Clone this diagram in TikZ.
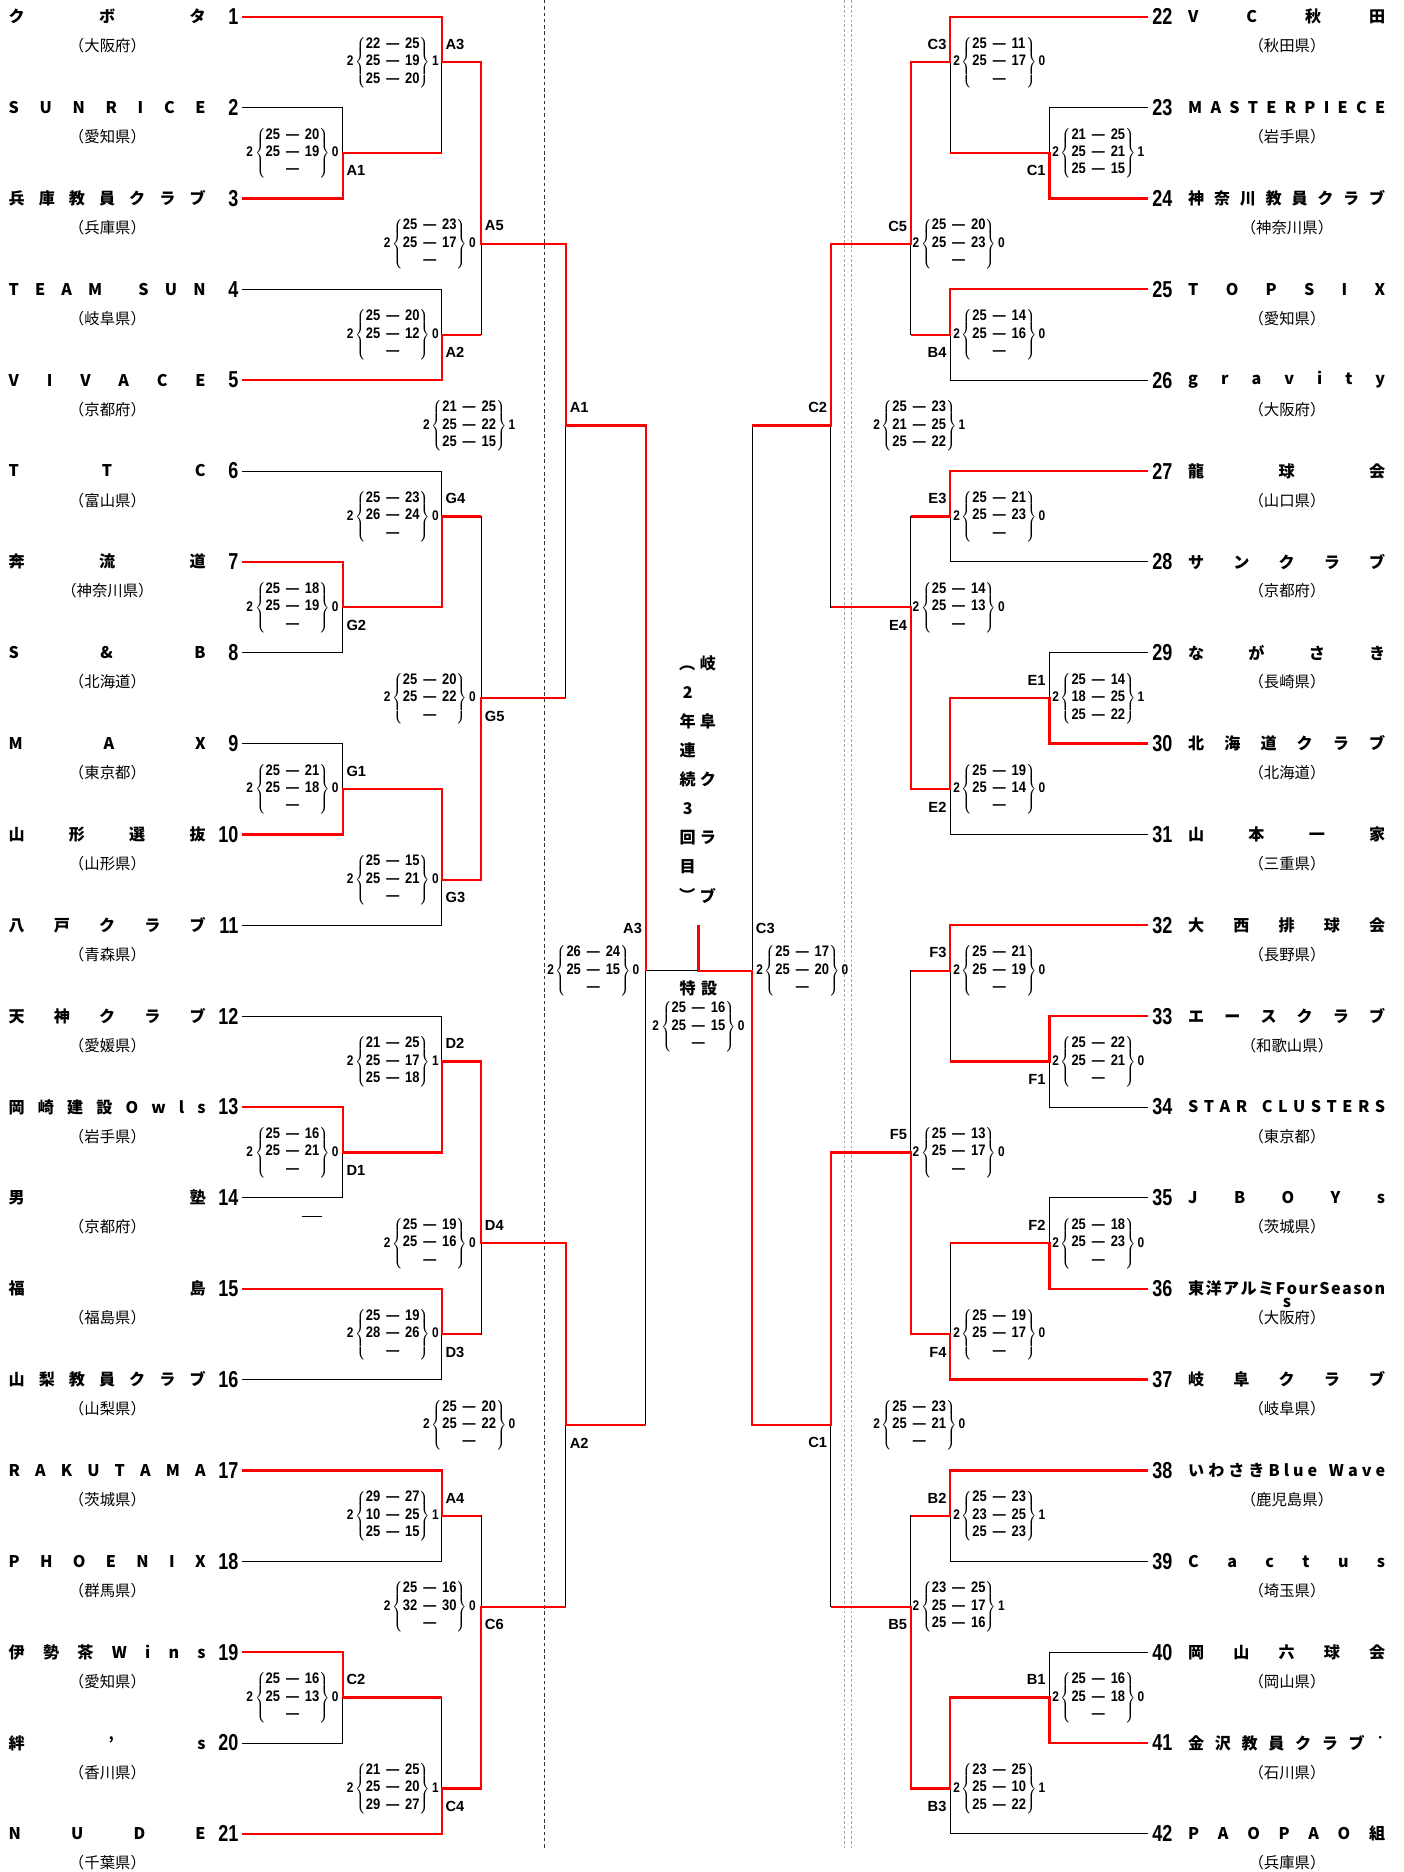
\documentclass[tikz,border=0pt]{standalone}
\usepackage{fontspec}
\setmainfont{Noto Sans CJK JP}
\newfontfamily\numf{Liberation Sans}
\newlength\namew
\setlength\namew{4.95cm}
\def\spreadfirst#1{#1\spreadnext}
\def\spreadnext#1{\ifx\relax#1\else\hfill#1\expandafter\spreadnext\fi}
\newcommand\spread[1]{\makebox[\namew][s]{\expandafter\spreadfirst#1\relax}}
\newcommand\tdot{\raisebox{0.5em}{\fontsize{7}{7}\selectfont ・}}
\newcommand\lpar{\rotatebox{-90}{（}}
\newcommand\rpar{\rotatebox{-90}{）}}
\newcommand\sco[5]{\scalebox{0.85}[1]{#1\,$\left\{\mbox{\fontsize{10.9}{12.5}\selectfont
  \begin{tabular}{@{}r@{\hspace{5pt}}c@{\hspace{5pt}}l@{}}#2\\#3\\#4\end{tabular}}\right\}$\,#5}}
\begin{document}
\begin{tikzpicture}
    [
        x=0.03cm, y=-2.283cm,
        lose/.style = {line width=0.7pt, black},
        win/.style = {line width=1.6pt, red},
        num/.style = {font=\numf\bfseries\fontsize{16.5}{18}\selectfont, inner sep=0pt},
        tname/.style = {font=\bfseries\fontsize{11.5}{13}\selectfont, inner sep=0pt, anchor=west},
        pref/.style = {font=\fontsize{11}{12}\selectfont, inner sep=0pt},
        score/.style = {font=\numf\bfseries\fontsize{10}{11}\selectfont, inner sep=0pt},
        lab/.style = {font=\numf\bfseries\fontsize{10.5}{12}\selectfont, inner sep=0pt},
        vtext/.style = {font=\bfseries\fontsize{11.5}{13}\selectfont, inner sep=0pt}
    ]
    \useasboundingbox (0,0.816) rectangle (1176,21.42);

    \draw[line width=0.5pt, black!80, dash pattern=on 2.5pt off 2pt] (456,0.816) -- (456,21.17);
    \draw[line width=0.5pt, gray!70, dash pattern=on 2pt off 1.5pt] (707,0.816) -- (707,21.17) (713,0.816) -- (713,21.17);

    \foreach \i/\nm/\pf in {1/クボタ/大阪府, 2/SUNRICE/愛知県, 3/兵庫教員クラブ/兵庫県, 4/TEAM~SUN/岐阜県,
        5/VIVACE/京都府, 6/TTC/富山県, 7/奔流道/神奈川県, 8/S\&B/北海道, 9/MAX/東京都, 10/山形選抜/山形県,
        11/八戸クラブ/青森県, 12/天神クラブ/愛媛県, 13/岡崎建設Owls/岩手県, 14/男塾/京都府, 15/福島/福島県,
        16/山梨教員クラブ/山梨県, 17/RAKUTAMA/茨城県, 18/PHOENIX/群馬県, 19/伊勢茶Wins/愛知県, 20/絆's/香川県,
        21/NUDE/千葉県}
    {
        \coordinate (T\i) at (203,\i);
        \node[num, anchor=east] (N\i) at (200,\i) {\scalebox{0.78}[1]{\i}};
        \node[tname] (Name\i) at (7,\i) {\spread{\nm}};
        \node[pref] (Pref\i) at (90,\i+0.322) {（\pf）};
    }
    \foreach \i/\nm/\pf in {22/VC秋田/秋田県, 23/MASTERPIECE/岩手県, 24/神奈川教員クラブ/神奈川県, 25/TOPSIX/愛知県,
        26/gravity/大阪府, 27/龍球会/山口県, 28/サンクラブ/京都府, 29/ながさき/長崎県, 30/北海道クラブ/北海道,
        31/山本一家/三重県, 32/大西排球会/長野県, 33/エースクラブ/和歌山県, 34/STAR~CLUSTERS/東京都, 35/JBOYs/茨城県,
        36/東洋アルミFourSeason/大阪府, 37/岐阜クラブ/岐阜県, 38/いわさきBlue~Wave/鹿児島県, 39/Cactus/埼玉県,
        40/岡山六球会/岡山県, 41/金沢教員クラブ\tdot/石川県, 42/PAOPAO組/兵庫県}
    {
        \pgfmathtruncatemacro\rw{\i-21}
        \coordinate (T\i) at (962,\rw);
        \node[num, anchor=west] (N\i) at (965,\rw) {\scalebox{0.78}[1]{\i}};
        \node[tname] (Name\i) at (995,\rw) {\spread{\nm}};
        \node[pref] (Pref\i) at (1078,\rw+0.322) {（\pf）};
    }
    \node[tname, anchor=center] (Name36s) at (1078,15.154) {s};

    \coordinate (LA1) at (287,2.5);
    \coordinate (LA3) at (370,1.5);
    \coordinate (LA2) at (370,4.5);
    \coordinate (LA5) at (403,3.5);
    \coordinate (LG2) at (287,7.5);
    \coordinate (LG4) at (370,6.5);
    \coordinate (LG1) at (287,9.5);
    \coordinate (LG3) at (370,10.5);
    \coordinate (LG5) at (403,8.5);
    \coordinate (LSA1) at (474,5.5);
    \coordinate (LD1) at (287,13.5);
    \coordinate (LD2) at (370,12.5);
    \coordinate (LD3) at (370,15.5);
    \coordinate (LD4) at (403,14.5);
    \coordinate (LA4) at (370,17.5);
    \coordinate (LC2) at (287,19.5);
    \coordinate (LC4) at (370,20.5);
    \coordinate (LC6) at (403,18.5);
    \coordinate (LSA2) at (474,16.5);
    \coordinate (LFA3) at (541,11.5);
    \coordinate (Top) at (585,11.5);
    \coordinate (Champ) at (585,11);
    \coordinate (RC1) at (879,2.5);
    \coordinate (RC3) at (796,1.5);
    \coordinate (RB4) at (796,4.5);
    \coordinate (RC5) at (763,3.5);
    \coordinate (RE3) at (796,6.5);
    \coordinate (RE1) at (879,8.5);
    \coordinate (RE2) at (796,9.5);
    \coordinate (RE4) at (763,7.5);
    \coordinate (RSC2) at (696,5.5);
    \coordinate (RF1) at (879,12.5);
    \coordinate (RF3) at (796,11.5);
    \coordinate (RF2) at (879,14.5);
    \coordinate (RF4) at (796,15.5);
    \coordinate (RF5) at (763,13.5);
    \coordinate (RB2) at (796,17.5);
    \coordinate (RB1) at (879,19.5);
    \coordinate (RB3) at (796,20.5);
    \coordinate (RB5) at (763,18.5);
    \coordinate (RSC1) at (696,16.5);
    \coordinate (RFC3) at (630,11.5);

    \draw[lose] (T1) -| (LA3) (T2) -| (LA1) (T3) -| (LA1) (LA1) -| (LA3)
        (T4) -| (LA2) (T5) -| (LA2) (LA3) -| (LA5) (LA2) -| (LA5)
        (T6) -| (LG4) (T7) -| (LG2) (T8) -| (LG2) (LG2) -| (LG4)
        (T9) -| (LG1) (T10) -| (LG1) (LG1) -| (LG3) (T11) -| (LG3)
        (LG4) -| (LG5) (LG3) -| (LG5) (LA5) -| (LSA1) (LG5) -| (LSA1);
    \draw[lose] (T12) -| (LD2) (T13) -| (LD1) (T14) -| (LD1) (LD1) -| (LD2)
        (T15) -| (LD3) (T16) -| (LD3) (LD2) -| (LD4) (LD3) -| (LD4)
        (T17) -| (LA4) (T18) -| (LA4) (T19) -| (LC2) (T20) -| (LC2)
        (LC2) -| (LC4) (T21) -| (LC4) (LA4) -| (LC6) (LC4) -| (LC6)
        (LD4) -| (LSA2) (LC6) -| (LSA2)
        (LSA1) -| (LFA3) (LSA2) -| (LFA3) (LFA3) -- (Top);
    \draw[lose] (T22) -| (RC3) (T23) -| (RC1) (T24) -| (RC1) (RC1) -| (RC3)
        (T25) -| (RB4) (T26) -| (RB4) (RC3) -| (RC5) (RB4) -| (RC5)
        (T27) -| (RE3) (T28) -| (RE3) (T29) -| (RE1) (T30) -| (RE1)
        (RE1) -| (RE2) (T31) -| (RE2) (RE3) -| (RE4) (RE2) -| (RE4)
        (RC5) -| (RSC2) (RE4) -| (RSC2);
    \draw[lose] (T32) -| (RF3) (T33) -| (RF1) (T34) -| (RF1) (RF1) -| (RF3)
        (T35) -| (RF2) (T36) -| (RF2) (RF2) -| (RF4) (T37) -| (RF4)
        (RF3) -| (RF5) (RF4) -| (RF5)
        (T38) -| (RB2) (T39) -| (RB2) (T40) -| (RB1) (T41) -| (RB1)
        (RB1) -| (RB3) (T42) -| (RB3) (RB2) -| (RB5) (RB3) -| (RB5)
        (RF5) -| (RSC1) (RB5) -| (RSC1)
        (RSC2) -| (RFC3) (RSC1) -| (RFC3) (RFC3) -- (Top);
    \draw[lose] (253,14.206) -- (270,14.206);

    \draw[win] (T1) -| (LA3) -| (LA5) -| (LSA1) -| (LFA3);
    \draw[win] (T3) -| (LA1) -- (LA1 -| LA3);
    \draw[win] (T5) -| (LA2) -- (LA2 -| LA5);
    \draw[win] (T7) -| (LG2) -| (LG4) -- (LG4 -| LG5);
    \draw[win] (T10) -| (LG1) -| (LG3) -| (LG5) -- (LG5 -| LSA1);
    \draw[win] (T13) -| (LD1) -| (LD2) -| (LD4) -| (LSA2) -- (LSA2 -| LFA3);
    \draw[win] (T15) -| (LD3) -- (LD3 -| LD4);
    \draw[win] (T17) -| (LA4) -- (LA4 -| LC6);
    \draw[win] (T19) -| (LC2) -- (LC2 -| LC4);
    \draw[win] (T21) -| (LC4) -| (LC6) -- (LC6 -| LSA2);
    \draw[win] (T22) -| (RC3) -| (RC5) -| (RSC2) -- (RSC2 -| RFC3);
    \draw[win] (T24) -| (RC1) -- (RC1 -| RC3);
    \draw[win] (T25) -| (RB4) -- (RB4 -| RC5);
    \draw[win] (T27) -| (RE3) -- (RE3 -| RE4);
    \draw[win] (T30) -| (RE1) -| (RE2) -| (RE4) -- (RE4 -| RSC2);
    \draw[win] (T32) -| (RF3) -- (RF3 -| RF5);
    \draw[win] (T33) -| (RF1) -- (RF1 -| RF3);
    \draw[win] (T36) -| (RF2) -- (RF2 -| RF4);
    \draw[win] (T37) -| (RF4) -| (RF5) -| (RSC1) -| (RFC3) -- (Top) -- (Champ);
    \draw[win] (T38) -| (RB2) -- (RB2 -| RB5);
    \draw[win] (T41) -| (RB1) -| (RB3) -| (RB5) -- (RB5 -| RSC1);

    \foreach \m/\t/\dy in {LA3/A3/-0.197, LA1/A1/0.197, LA5/A5/-0.197, LA2/A2/0.197, LSA1/A1/-0.197,
        LG4/G4/-0.197, LG2/G2/0.197, LG5/G5/0.197, LG1/G1/-0.197, LG3/G3/0.197, LD2/D2/-0.197,
        LD1/D1/0.197, LD4/D4/-0.197, LD3/D3/0.197, LSA2/A2/0.197, LA4/A4/-0.197, LC6/C6/0.197,
        LC2/C2/-0.197, LC4/C4/0.197}
        \node[lab, anchor=west] (l\m) at ([shift={(3,\dy)}]\m) {\t};
    \foreach \m/\t/\dy in {RC3/C3/-0.197, RC1/C1/0.197, RC5/C5/-0.197, RB4/B4/0.197, RSC2/C2/-0.197,
        RE3/E3/-0.197, RE4/E4/0.197, RE1/E1/-0.197, RE2/E2/0.197, RF3/F3/-0.197, RF1/F1/0.197,
        RF5/F5/-0.197, RF2/F2/-0.197, RF4/F4/0.197, RSC1/C1/0.197, RB2/B2/-0.197, RB5/B5/0.197,
        RB1/B1/-0.197, RB3/B3/0.197}
        \node[lab, anchor=east] (l\m) at ([shift={(-3,\dy)}]\m) {\t};
    \node[lab, anchor=east] (lLFA3) at ([shift={(-3,-0.46)}]LFA3) {A3};
    \node[lab, anchor=west] (lRFC3) at ([shift={(3,-0.46)}]RFC3) {C3};

    \node[score] (sLA3) at (329,1.5) {\sco{2}{22&—&25}{25&—&19}{25&—&20}{1}};
    \node[score] (sLA1) at (245,2.5) {\sco{2}{25&—&20}{25&—&19}{&—&}{0}};
    \node[score] (sLA5) at (360,3.5) {\sco{2}{25&—&23}{25&—&17}{&—&}{0}};
    \node[score] (sLA2) at (329,4.5) {\sco{2}{25&—&20}{25&—&12}{&—&}{0}};
    \node[score] (sLSA1) at (393,5.5) {\sco{2}{21&—&25}{25&—&22}{25&—&15}{1}};
    \node[score] (sLG4) at (329,6.5) {\sco{2}{25&—&23}{26&—&24}{&—&}{0}};
    \node[score] (sLG2) at (245,7.5) {\sco{2}{25&—&18}{25&—&19}{&—&}{0}};
    \node[score] (sLG5) at (360,8.5) {\sco{2}{25&—&20}{25&—&22}{&—&}{0}};
    \node[score] (sLG1) at (245,9.5) {\sco{2}{25&—&21}{25&—&18}{&—&}{0}};
    \node[score] (sLG3) at (329,10.5) {\sco{2}{25&—&15}{25&—&21}{&—&}{0}};
    \node[score] (sLFA3) at (497,11.5) {\sco{2}{26&—&24}{25&—&15}{&—&}{0}};
    \node[score] (sLD2) at (329,12.5) {\sco{2}{21&—&25}{25&—&17}{25&—&18}{1}};
    \node[score] (sLD1) at (245,13.5) {\sco{2}{25&—&16}{25&—&21}{&—&}{0}};
    \node[score] (sLD4) at (360,14.5) {\sco{2}{25&—&19}{25&—&16}{&—&}{0}};
    \node[score] (sLD3) at (329,15.5) {\sco{2}{25&—&19}{28&—&26}{&—&}{0}};
    \node[score] (sLSA2) at (393,16.5) {\sco{2}{25&—&20}{25&—&22}{&—&}{0}};
    \node[score] (sLA4) at (329,17.5) {\sco{2}{29&—&27}{10&—&25}{25&—&15}{1}};
    \node[score] (sLC6) at (360,18.5) {\sco{2}{25&—&16}{32&—&30}{&—&}{0}};
    \node[score] (sLC2) at (245,19.5) {\sco{2}{25&—&16}{25&—&13}{&—&}{0}};
    \node[score] (sLC4) at (329,20.5) {\sco{2}{21&—&25}{25&—&20}{29&—&27}{1}};

    \node[score] (sRC3) at (837,1.5) {\sco{2}{25&—&11}{25&—&17}{&—&}{0}};
    \node[score] (sRC1) at (920,2.5) {\sco{2}{21&—&25}{25&—&21}{25&—&15}{1}};
    \node[score] (sRC5) at (803,3.5) {\sco{2}{25&—&20}{25&—&23}{&—&}{0}};
    \node[score] (sRB4) at (837,4.5) {\sco{2}{25&—&14}{25&—&16}{&—&}{0}};
    \node[score] (sRSC2) at (770,5.5) {\sco{2}{25&—&23}{21&—&25}{25&—&22}{1}};
    \node[score] (sRE3) at (837,6.5) {\sco{2}{25&—&21}{25&—&23}{&—&}{0}};
    \node[score] (sRE4) at (803,7.5) {\sco{2}{25&—&14}{25&—&13}{&—&}{0}};
    \node[score] (sRE1) at (920,8.5) {\sco{2}{25&—&14}{18&—&25}{25&—&22}{1}};
    \node[score] (sRE2) at (837,9.5) {\sco{2}{25&—&19}{25&—&14}{&—&}{0}};
    \node[score] (sRFC3) at (672,11.5) {\sco{2}{25&—&17}{25&—&20}{&—&}{0}};
    \node[score] (sRF3) at (837,11.5) {\sco{2}{25&—&21}{25&—&19}{&—&}{0}};
    \node[score] (sRF1) at (920,12.5) {\sco{2}{25&—&22}{25&—&21}{&—&}{0}};
    \node[score] (sRF5) at (803,13.5) {\sco{2}{25&—&13}{25&—&17}{&—&}{0}};
    \node[score] (sRF2) at (920,14.5) {\sco{2}{25&—&18}{25&—&23}{&—&}{0}};
    \node[score] (sRF4) at (837,15.5) {\sco{2}{25&—&19}{25&—&17}{&—&}{0}};
    \node[score] (sRSC1) at (770,16.5) {\sco{2}{25&—&23}{25&—&21}{&—&}{0}};
    \node[score] (sRB2) at (837,17.5) {\sco{2}{25&—&23}{23&—&25}{25&—&23}{1}};
    \node[score] (sRB5) at (803,18.5) {\sco{2}{23&—&25}{25&—&17}{25&—&16}{1}};
    \node[score] (sRB1) at (920,19.5) {\sco{2}{25&—&16}{25&—&18}{&—&}{0}};
    \node[score] (sRB3) at (837,20.5) {\sco{2}{23&—&25}{25&—&10}{25&—&22}{1}};

    \node[vtext] (lTop) at (585,11.697) {特\hspace{4pt}設};
    \node[score] (sTop) at (585,12.117) {\sco{2}{25\hspace{6pt}&—&16}{25\hspace{6pt}&—&15}{&—&}{0}};

    \foreach \ch [count=\jj] in {\lpar,2,年,連,続,3,回,目,\rpar}
        \node[vtext] (Ttl\jj) at (576,{8.122+0.319*(\jj-1)}) {\ch};
    \foreach \ch [count=\jj] in {岐,阜,ク,ラ,ブ}
        \node[vtext] (Ttr\jj) at (593,{8.122+0.638*(\jj-1)}) {\ch};
\end{tikzpicture}
\end{document}
